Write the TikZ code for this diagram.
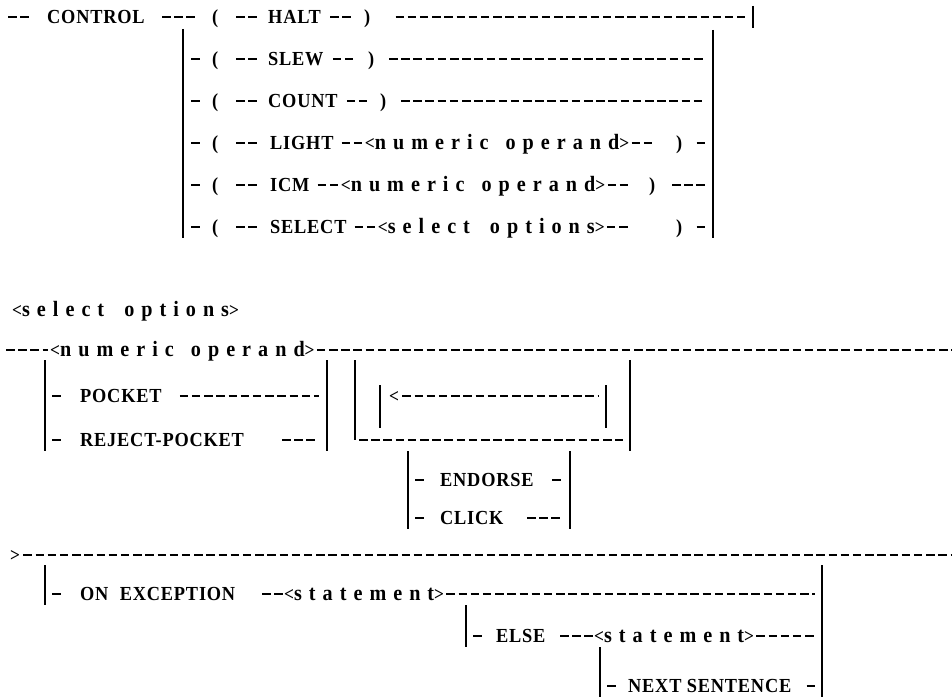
\documentclass[tikz,border=0pt]{standalone}
\usepackage{fontspec}
\newfontfamily\kwfont{Liberation Serif}[FakeStretch=0.92,LetterSpace=4]
\newfontfamily\mvfont{Liberation Serif}[FakeStretch=0.92,LetterSpace=32]
\newcommand\lab{{\fontsize{19}{19}\selectfont<}}
\newcommand\rab{{\fontsize{19}{19}\selectfont>}}
\begin{document}
\begin{tikzpicture}[x=1bp,y=-1bp,
  txt/.style={anchor=west,inner sep=0pt,text height=13bp,text depth=0bp},
  kw/.style={txt,font=\kwfont\bfseries\fontsize{20}{20}\selectfont},
  mv/.style={txt,font=\mvfont\bfseries\fontsize{22}{22}\selectfont},
  dl/.style={line width=1.7bp,dash pattern=on 8.5bp off 3.7bp},
  bar/.style={line width=1.4bp}]
\fill[white] (0,0) rectangle (952,697);
\useasboundingbox (0,0) rectangle (952,697);

% ---------- CONTROL statement ----------
\draw[dl] (8,17) -- (29,17);
\node[kw] (control) at (47,17) {CONTROL};
\draw[dl] (162,17) -- (195,17);
\node[kw] (lp1) at (212,17) {(};
\draw[dl] (236,17) -- (257,17);
\node[kw] (halt) at (268,17) {HALT};
\draw[dl] ([xshift=9bp]halt.east) -- ++(21,0);
\node[kw] (rp1) at (364,17) {)};
\coordinate (t1) at (753,17);
\draw[dl] ([xshift=25bp]rp1.east) -- ([xshift=-8bp]t1);
\draw[bar] ([yshift=11bp]t1) -- ([yshift=-11bp]t1);

\coordinate (lbt) at (183,29);
\coordinate (lbb) at (183,238);
\draw[bar] (lbt) -- (lbb);
\coordinate (rbt) at (713,30);
\coordinate (rbb) at (713,238);
\draw[bar] (rbt) -- (rbb);

\foreach \y/\n in {59/2,101/3,143/4,185/5,227/6}{
  \draw[dl] (191,\y) -- (199.5,\y);
  \node[kw] (lp\n) at (212,\y) {(};
  \draw[dl] (236,\y) -- (257,\y);
}
\node[kw] (slew) at (268,59) {SLEW};
\draw[dl] ([xshift=9bp]slew.east) -- ++(21,0);
\node[kw] (rp2) at (368,59) {)};
\draw[dl] (389,59) -- (705,59);

\node[kw] (count) at (268,101) {COUNT};
\draw[dl] ([xshift=9bp]count.east) -- ++(21,0);
\node[kw] (rp3) at (380,101) {)};
\draw[dl] (401,101) -- (705,101);

\node[kw] (light) at (270,143) {LIGHT};
\draw[dl] ([xshift=8bp]light.east) -- ++(21,0);
\path ([xshift=31bp]light.east) node[mv] (num1) {\lab numeric\hspace{5bp} operand\rab};
\draw[dl] ([xshift=2bp]num1.east) -- ++(21,0);
\node[kw] (rp4) at (676,143) {)};
\draw[dl] (696.5,143) -- (705,143);

\node[kw] (icm) at (270,185) {ICM};
\draw[dl] ([xshift=8bp]icm.east) -- ++(21,0);
\path ([xshift=31bp]icm.east) node[mv] (num2) {\lab numeric\hspace{5bp} operand\rab};
\draw[dl] ([xshift=2bp]num2.east) -- ++(21,0);
\node[kw] (rp5) at (649,185) {)};
\draw[dl] (672,185) -- (705,185);

\node[kw] (select) at (270,227) {SELECT};
\draw[dl] ([xshift=8bp]select.east) -- ++(21,0);
\path ([xshift=31bp]select.east) node[mv] (selo) {\lab select\hspace{8bp} options\rab};
\draw[dl] ([xshift=2bp]selo.east) -- ++(21,0);
\node[kw] (rp6) at (676,227) {)};
\draw[dl] (696.5,227) -- (705,227);

% ---------- select options ----------
\node[mv] (selhead) at (12,310) {\lab select\hspace{8bp} options\rab};
\node[mv] (num3) at (50,350) {\lab numeric\hspace{5bp} operand\rab};
\draw[dl] (6,350) -- (48,350);
\coordinate (numend) at (952,350);
\draw[dl] ([xshift=2bp]num3.east) -- (numend);

\draw[bar] (45,360) -- (45,451);
\draw[dl] (52,396) -- (60.5,396);
\node[kw] (pocket) at (80,396) {POCKET};
\coordinate (pbar) at (327,396);
\draw[dl] ([xshift=18bp]pocket.east) -- ([xshift=-8bp]pbar);
\draw[dl] (52,440) -- (60.5,440);
\node[kw] (rpocket) at (80,440) {REJECT-POCKET};
\draw[dl] (282,440) -- (315,440);
\draw[bar] (327,360) -- (327,451);

\coordinate (lpl) at (355,440);
\coordinate (lpr) at (630,440);
\draw[bar] (355,360) -- (lpl);
\draw[dl] ([xshift=4bp]lpl) -- ([xshift=-7bp]lpr);
\draw[bar] (630,360) -- (630,451);
\draw[bar] (380,385) -- (380,428);
\node[kw] (back) at (389,396) {\lab};
\coordinate (ibr) at (606,396);
\draw[dl] ([xshift=3bp]back.east) -- ([xshift=-8bp]ibr);
\draw[bar] (606,385) -- (606,428);

\draw[bar] (408,451) -- (408,529);
\draw[dl] (415,480) -- (423.5,480);
\node[kw] (endorse) at (440,480) {ENDORSE};
\draw[dl] (552,480) -- (560.5,480);
\draw[dl] (415,518) -- (423.5,518);
\node[kw] (click) at (440,518) {CLICK};
\draw[dl] (527,518) -- (560,518);
\draw[bar] (570,451) -- (570,529);

\node[kw] (gt) at (10,555) {\rab};
\coordinate (gtend) at (952,555);
\draw[dl] ([xshift=3bp]gt.east) -- (gtend);

\draw[bar] (45,565) -- (45,605);
\draw[dl] (52,594) -- (60.5,594);
\node[kw] (onexc) at (80,594) {ON\hspace{6bp} EXCEPTION};
\node[mv] (stm1) at (284,594) {\lab statement\rab};
\draw[dl] ([xshift=-22bp]stm1.west) -- ++(21,0);
\coordinate (obar) at (822,594);
\draw[dl] ([xshift=2bp]stm1.east) -- ([xshift=-7bp]obar);
\draw[bar] (822,565) -- (822,697);

\draw[bar] (466,605) -- (466,647);
\draw[dl] (473,636) -- (481.5,636);
\node[kw] (else) at (496,636) {ELSE};
\node[mv] (stm2) at (594,636) {\lab statement\rab};
\draw[dl] ([xshift=-34bp]stm2.west) -- ++(33,0);
\coordinate (ebar) at (822,636);
\draw[dl] ([xshift=2bp]stm2.east) -- ([xshift=-7bp]ebar);

\draw[bar] (600,647) -- (600,697);
\draw[dl] (607,686) -- (615.5,686);
\node[kw] (nexts) at (628,686) {NEXT SENTENCE};
\draw[dl] (806.5,686) -- (815,686);
\end{tikzpicture}
\end{document}
